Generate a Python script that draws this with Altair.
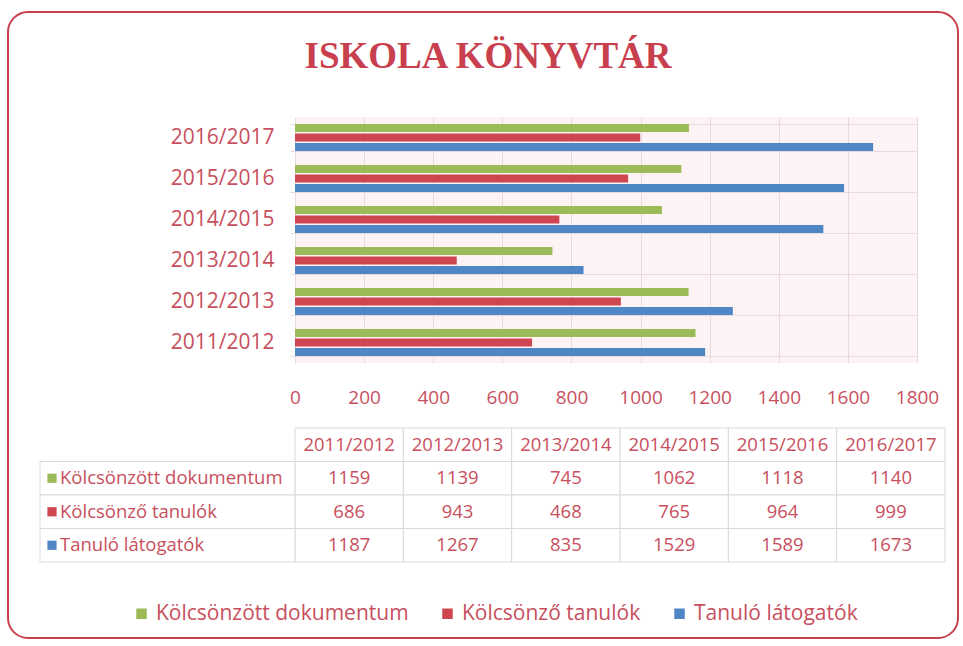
import altair as alt
import pandas as pd

years = ["2011/2012", "2012/2013", "2013/2014", "2014/2015", "2015/2016", "2016/2017"]
series = ["Kölcsönzött dokumentum", "Kölcsönző tanulók", "Tanuló látogatók"]
dokumentum = [1159, 1139, 745, 1062, 1118, 1140]
tanulok = [686, 943, 468, 765, 964, 999]
latogatok = [1187, 1267, 835, 1529, 1589, 1673]
x_ticks = [0, 200, 400, 600, 800, 1000, 1200, 1400, 1600, 1800]
colors = ["#9BBB59", "#CD4650", "#4F86C6"]
title_text = "ISKOLA KÖNYVTÁR"

TXT = "#C8505E"
FONT = "Open Sans"
GRID = "#e8d9dc"
LINE = "#d9d9d9"

rows = []
for s, vals in zip(series, [dokumentum, tanulok, latogatok]):
    for y, v in zip(years, vals):
        rows.append({"year": y, "series": s, "value": v})
df = pd.DataFrame(rows)
hdr = pd.DataFrame({"year": years, "series": ["hdr"] * len(years)})
lab = pd.DataFrame({"series": series})
frame_df = pd.DataFrame({"k": [0]})

color_scale = alt.Scale(domain=series, range=colors)
legend = alt.Legend(orient="none", legendX=-164, legendY=486, direction="horizontal",
                    title=None, symbolType="square", symbolSize=110, symbolStrokeWidth=0,
                    labelFontSize=21, labelColor=TXT, labelFont=FONT, columnPadding=28,
                    labelOffset=4, labelLimit=0)

bars = alt.Chart(df).mark_bar().encode(
    x=alt.X("value:Q", scale=alt.Scale(domain=[0, 1800], nice=False),
            axis=alt.Axis(values=x_ticks, title=None, labelColor=TXT, labelFontSize=19,
                          labelFont=FONT, labelPadding=25, ticks=False, domain=False,
                          gridColor=GRID, labelOverlap=False, labelFlush=False, format="d")),
    y=alt.Y("year:N", sort=years[::-1],
            scale=alt.Scale(paddingInner=0.34, paddingOuter=0.17),
            axis=alt.Axis(title=None, tickBand="extent", labelColor=TXT, labelFontSize=21,
                          labelFont=FONT, labelPadding=16, grid=True, gridColor=GRID,
                          domain=False, tickColor=GRID, tickSize=5)),
    yOffset=alt.YOffset("series:N", sort=series, scale=alt.Scale(paddingInner=0.16)),
    color=alt.Color("series:N", scale=color_scale, legend=legend),
).properties(
    width=622, height=246,
    view=alt.ViewBackground(fill="#fdf3f5", stroke=None),
    title=alt.TitleParams(title_text, font="Liberation Serif", fontSize=37, fontWeight="bold",
                          color="#C8404E", anchor="middle", frame="group", dx=-118, offset=30),
)

xs = alt.X("year:N", sort=years, scale=alt.Scale(paddingInner=0, paddingOuter=0), axis=None)
ys = alt.Y("series:N", scale=alt.Scale(domain=["hdr"] + series, paddingInner=0, paddingOuter=0),
           axis=None)

frame = alt.Chart(frame_df).mark_rect(fill="white", fillOpacity=0, stroke="#C8404E",
                                      strokeWidth=2, cornerRadius=20).encode(
    x=alt.value(-287), x2=alt.value(663), y=alt.value(-416), y2=alt.value(210))

cells = alt.Chart(df).mark_rect(fill="white", stroke=LINE, strokeWidth=1).encode(x=xs, y=ys)
hcells = alt.Chart(hdr).mark_rect(fill="white", stroke=LINE, strokeWidth=1).encode(x=xs, y=ys)
vals_t = alt.Chart(df).mark_text(fontSize=18.5, color=TXT, font=FONT).encode(
    x=xs, y=ys, text="value:Q")
hdr_t = alt.Chart(hdr).mark_text(fontSize=18.5, color=TXT, font=FONT).encode(
    x=xs, y=ys, text="year:N")
lab_cells = alt.Chart(lab).mark_rect(fill="white", stroke=LINE, strokeWidth=1).encode(
    x=alt.value(-255), x2=alt.value(0), y=ys)
lab_sq = alt.Chart(lab).mark_square(size=85, opacity=1).encode(
    x=alt.value(-243), y=ys, color=alt.Color("series:N", scale=color_scale, legend=legend))
lab_t = alt.Chart(lab).mark_text(fontSize=18.5, color=TXT, font=FONT, align="left").encode(
    x=alt.value(-235), y=ys, text="series:N")

table = alt.layer(frame, hcells, cells, lab_cells, vals_t, hdr_t, lab_sq, lab_t).properties(
    width=650, height=134, view=alt.ViewBackground(stroke=None))

chart = alt.vconcat(bars, table, spacing=65, bounds="flush").properties(
    padding={"left": 7, "top": 11, "right": 4, "bottom": 7}
).configure_view(stroke=None)

chart.save("out.html", embed_options={"renderer": "svg", "actions": False})
